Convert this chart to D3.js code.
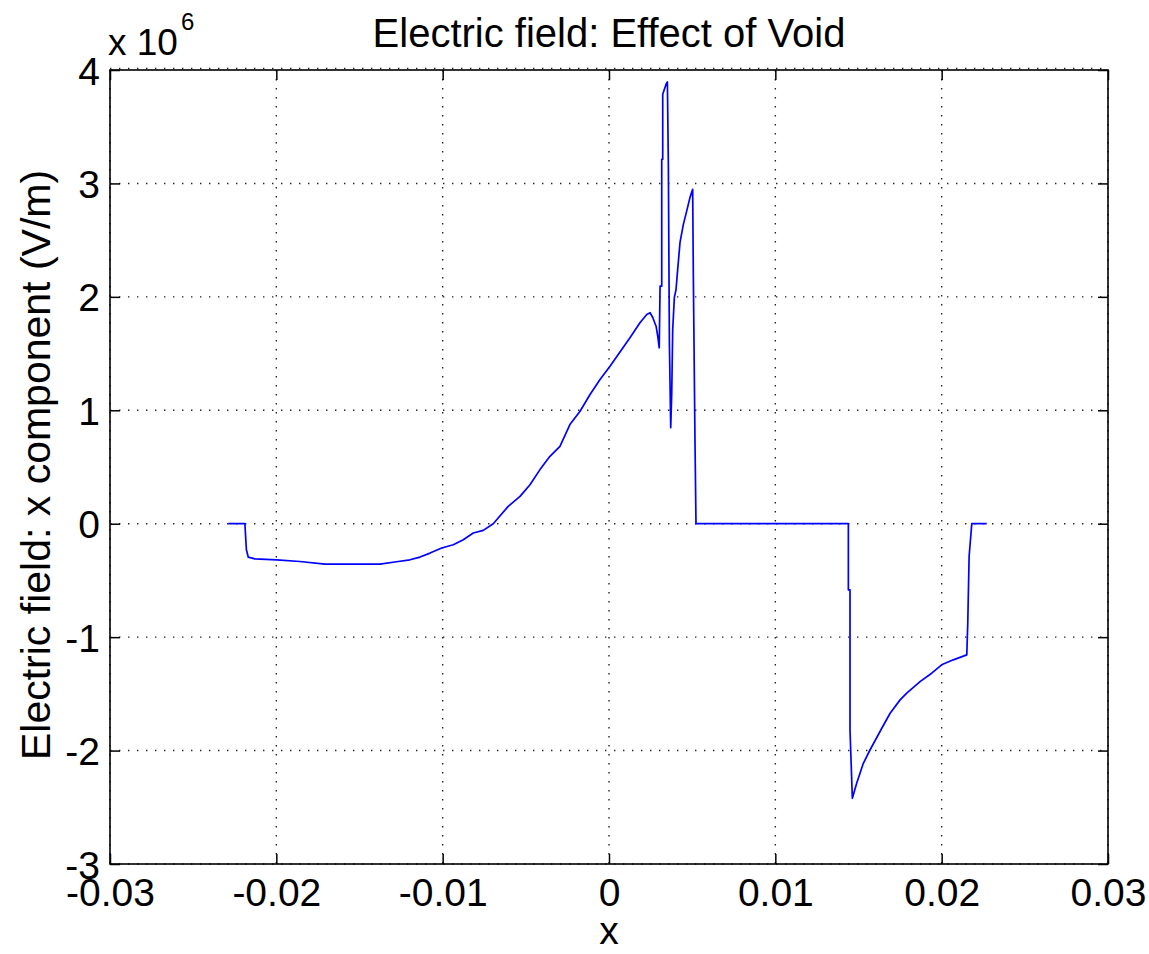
<!DOCTYPE html>
<html><head><meta charset="utf-8">
<script src="https://cdn.jsdelivr.net/npm/d3@7"></script>
<style>body{margin:0;background:#fff}svg{display:block}text{font-family:"Liberation Sans",Arial,sans-serif;fill:#000}</style>
</head><body>
<script>
const xValues = [-0.02289,-0.02189,-0.02180,-0.02169,-0.02129,-0.01998,-0.01858,-0.01708,-0.01377,-0.01267,-0.01197,-0.01136,-0.01076,-0.01006,-0.00936,-0.00876,-0.00816,-0.00756,-0.00696,-0.00606,-0.00535,-0.00475,-0.00415,-0.00355,-0.00295,-0.00235,-0.00174,-0.00114,-0.00054,0.00006,0.00066,0.00126,0.00186,0.00227,0.00247,0.00263,0.00283,0.00293,0.00302,0.00307,0.00317,0.00317,0.00323,0.00323,0.00337,0.00343,0.00351,0.00357,0.00363,0.00371,0.00377,0.00383,0.00393,0.00403,0.00413,0.00427,0.00447,0.00467,0.00487,0.00503,0.00507,0.00517,0.00523,0.01439,0.01439,0.01449,0.01449,0.01463,0.01489,0.01529,0.01569,0.0164,0.0169,0.0175,0.0179,0.0187,0.0194,0.0200,0.0207,0.02151,0.02157,0.02165,0.02181,0.02271];
const eValues = [0,0,-0.23,-0.294,-0.31,-0.318,-0.333,-0.356,-0.356,-0.333,-0.318,-0.294,-0.259,-0.214,-0.185,-0.141,-0.082,-0.059,0,0.153,0.241,0.344,0.477,0.594,0.682,0.874,0.991,1.139,1.271,1.388,1.514,1.639,1.771,1.845,1.86,1.818,1.741,1.653,1.551,2.094,2.094,3.213,3.213,3.786,3.848,3.875,3.895,3.142,1.609,0.847,1.139,1.712,1.995,2.065,2.242,2.48,2.639,2.756,2.877,2.948,2.198,0.726,0,0,-0.583,-0.583,-1.818,-2.421,-2.289,-2.112,-1.995,-1.803,-1.671,-1.553,-1.494,-1.392,-1.318,-1.244,-1.2,-1.156,-0.876,-0.289,0,0];
const xTicks = [-0.03,-0.02,-0.01,0,0.01,0.02,0.03];
const xTickLabels = ["-0.03","-0.02","-0.01","0","0.01","0.02","0.03"];
const yTicks = [-3,-2,-1,0,1,2,3,4];
const yTickLabels = ["-3","-2","-1","0","1","2","3","4"];
const titleText = "Electric field: Effect of Void";
const xLabel = "x";
const yLabel = "Electric field: x component (V/m)";

const W=1149,H=954, L=110,R=1108,T=70,B=864;
const FONT='"Liberation Sans",Arial,sans-serif';
const svg=d3.select("body").append("svg").attr("width",W).attr("height",H);
const x=d3.scaleLinear().domain([-0.03,0.03]).range([L,R]);
const y=d3.scaleLinear().domain([-3,4]).range([B,T]);

// grid
const g=svg.append("g").attr("stroke","#222").attr("stroke-width",1.4).attr("stroke-dasharray","1.4,7.6");
xTicks.forEach(t=>g.append("line").attr("x1",x(t)).attr("x2",x(t)).attr("y1",T).attr("y2",B));
yTicks.forEach(t=>g.append("line").attr("x1",L).attr("x2",R).attr("y1",y(t)-(t===4?1.5:0)).attr("y2",y(t)-(t===4?1.5:0)));

// data line
const pts=xValues.map((v,i)=>[v,eValues[i]]);
svg.append("path").datum(pts).attr("fill","none").attr("stroke","#0000ff").attr("stroke-width",1.7)
  .attr("stroke-linejoin","round").attr("d",d3.line().x(d=>x(d[0])).y(d=>y(d[1])));

// box
svg.append("rect").attr("x",L).attr("y",T).attr("width",R-L).attr("height",B-T).attr("fill","none").attr("stroke","#000").attr("stroke-width",1.6);

// axes with inward ticks
const ax=svg.append("g").attr("transform",`translate(0,${B})`).call(d3.axisBottom(x).tickValues(xTicks).tickSizeInner(-10).tickSizeOuter(0).tickFormat((d,i)=>xTickLabels[i]));
ax.select(".domain").remove();
ax.selectAll("line").attr("stroke","#000").attr("stroke-width",1.5);
ax.selectAll("text").attr("font-size",39).attr("y",42).attr("dy",0).style("font-family",FONT);
const axT=svg.append("g").attr("transform",`translate(0,${T})`).call(d3.axisTop(x).tickValues(xTicks).tickSizeInner(-10).tickSizeOuter(0).tickFormat(""));
axT.select(".domain").remove(); axT.selectAll("line").attr("stroke","#000").attr("stroke-width",1.5);
const ay=svg.append("g").attr("transform",`translate(${L},0)`).call(d3.axisLeft(y).tickValues(yTicks).tickSizeInner(-10).tickSizeOuter(0).tickFormat((d,i)=>yTickLabels[i]));
ay.select(".domain").remove();
ay.selectAll("line").attr("stroke","#000").attr("stroke-width",1.5);
ay.selectAll("text").attr("font-size",39).attr("x",-10).attr("dy","0.36em").style("font-family",FONT);
const ayR=svg.append("g").attr("transform",`translate(${R},0)`).call(d3.axisRight(y).tickValues(yTicks).tickSizeInner(-10).tickSizeOuter(0).tickFormat(""));
ayR.select(".domain").remove(); ayR.selectAll("line").attr("stroke","#000").attr("stroke-width",1.5);

// exponent
svg.append("text").attr("x",108).attr("y",55).attr("font-size",37).text("x 10");
svg.append("text").attr("x",181).attr("y",30).attr("font-size",24).text("6");

// title and labels
svg.append("text").attr("x",(L+R)/2).attr("y",47).attr("text-anchor","middle").attr("font-size",40).text(titleText);
svg.append("text").attr("x",(L+R)/2).attr("y",944).attr("text-anchor","middle").attr("font-size",39).text(xLabel);
svg.append("text").attr("transform",`translate(50,${(T+B)/2-2}) rotate(-90)`).attr("text-anchor","middle").attr("font-size",41).text(yLabel);
</script>
</body></html>
